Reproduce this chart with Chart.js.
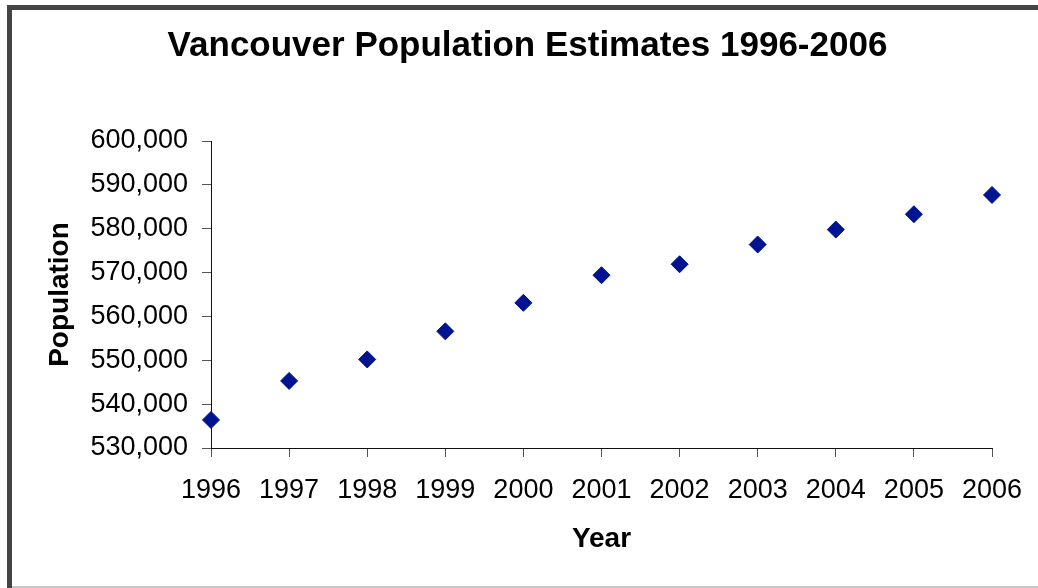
<!DOCTYPE html>
<html>
<head>
<meta charset="utf-8">
<title>Vancouver Population Estimates 1996-2006</title>
<script src="https://cdn.jsdelivr.net/npm/chart.js@4/dist/chart.umd.min.js"></script>
<style>
  html, body { margin: 0; padding: 0; background: #fff; }
  canvas { display: block; }
</style>
</head>
<body>
<canvas id="chart" width="1038" height="588"></canvas>
<script>
// Annual population estimates for the City of Vancouver
const years = [1996, 1997, 1998, 1999, 2000, 2001, 2002, 2003, 2004, 2005, 2006];
const population = [536400, 545300, 550200, 556600, 563100, 569400, 571900, 576400, 579800, 583300, 587700];

// Axis settings
const yMin = 530000;
const yMax = 600000;
const yStep = 10000;

const FONT = "'Liberation Sans', Arial, Helvetica, sans-serif";

// Dark frame on the left and top edges, light rule at the bottom
const framePlugin = {
  id: 'frame',
  beforeDraw(chart) {
    const ctx = chart.ctx;
    const w = chart.width, h = chart.height;
    ctx.save();
    ctx.fillStyle = '#fff';
    ctx.fillRect(0, 0, w, h);
    ctx.fillStyle = '#444';
    ctx.fillRect(7, 5, 5, h - 5);
    ctx.fillRect(7, 5, w - 7, 5);
    ctx.fillStyle = '#c8c8c8';
    ctx.fillRect(12, h - 2, w - 12, 2);
    ctx.restore();
  }
};

const points = years.map((y, i) => ({ x: y, y: population[i] }));

new Chart(document.getElementById('chart'), {
  type: 'scatter',
  data: {
    datasets: [{
      label: 'Population',
      data: points,
      pointStyle: 'rectRot',
      pointRadius: 8.5,
      pointHoverRadius: 8.5,
      backgroundColor: '#001391',
      borderColor: '#001391',
      borderWidth: 1,
      clip: false
    }]
  },
  options: {
    responsive: false,
    animation: false,
    events: [],
    layout: { padding: { left: 17, right: 0, top: 0, bottom: 0 } },
    plugins: {
      legend: { display: false },
      tooltip: { enabled: false },
      title: {
        display: true,
        text: 'Vancouver Population Estimates 1996-2006',
        color: '#000',
        font: { family: FONT, size: 35, weight: 'bold' },
        padding: { top: 25, bottom: 74 }
      }
    },
    scales: {
      x: {
        type: 'linear',
        min: years[0],
        max: years[years.length - 1],
        afterFit(scale) {
          scale.height = 140;
          scale.paddingLeft = 0;
          scale.paddingRight = 46;
        },
        ticks: {
          stepSize: 1,
          color: '#000',
          padding: 17,
          maxRotation: 0,
          font: { family: FONT, size: 27 },
          callback: (v) => String(v)
        },
        grid: {
          drawOnChartArea: false,
          drawTicks: true,
          tickLength: 9,
          color: '#555'
        },
        border: { display: true, color: '#111', width: 1 },
        title: {
          display: true,
          text: 'Year',
          color: '#000',
          font: { family: FONT, size: 28, weight: 'bold' },
          padding: { top: 0, bottom: 32 }
        }
      },
      y: {
        min: yMin,
        max: yMax,
        afterFit(scale) {
          scale.width = 194;
        },
        ticks: {
          stepSize: yStep,
          color: '#000',
          padding: 14,
          font: { family: FONT, size: 27 },
          callback: (v) => v.toLocaleString('en-US')
        },
        grid: {
          drawOnChartArea: false,
          drawTicks: true,
          tickLength: 9,
          color: '#555'
        },
        border: { display: true, color: '#111', width: 1 },
        title: {
          display: true,
          text: 'Population',
          color: '#000',
          font: { family: FONT, size: 28, weight: 'bold' },
          padding: { top: 26, bottom: 0 }
        }
      }
    }
  },
  plugins: [framePlugin]
});
</script>
</body>
</html>
